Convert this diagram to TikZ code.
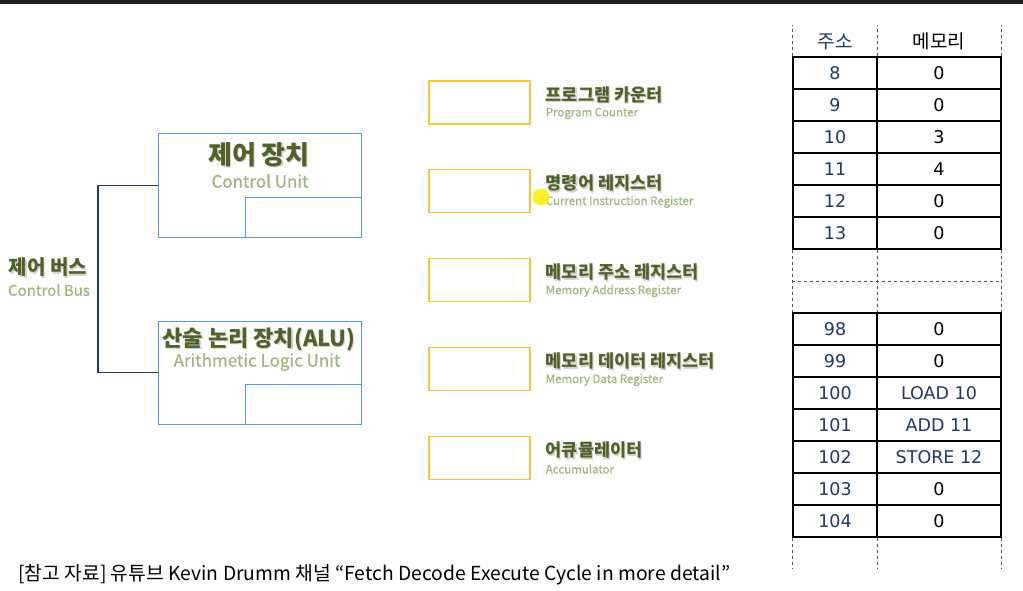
\documentclass[tikz,border=0pt]{standalone}
\usepackage{fontspec}
\setmainfont{Noto Sans CJK KR}
\newfontfamily\semifont{Noto Sans CJK KR}[FakeBold=0.6]
\newfontfamily\cellfont{DejaVu Sans}
\usetikzlibrary{positioning,calc}

\definecolor{cuborder}{HTML}{5B9BD5}
\definecolor{regborder}{HTML}{F8C53A}
\definecolor{darkleaf}{HTML}{4F6228}
\definecolor{paleleaf}{HTML}{9CB87E}
\definecolor{busnavy}{HTML}{1F3864}
\definecolor{tabnavy}{HTML}{203864}
\definecolor{gridgray}{HTML}{44546A}
\definecolor{topbar}{HTML}{1E1E1E}

% label with a soft drop shadow
\newcommand{\shadowed}[1]{\leavevmode\rlap{\kern1.1pt\raisebox{-1.1pt}{\textcolor{black!18}{#1}}}#1}

\begin{document}
\begin{tikzpicture}[x=1pt, y=-1pt,
        unitbox/.style={draw=cuborder, line width=1pt, minimum width=203pt, minimum height=103pt, inner sep=0pt},
        subbox/.style={draw=cuborder, line width=1pt, minimum width=116pt, minimum height=40pt, inner sep=0pt},
        regbox/.style={draw=regborder, line width=1.2pt, minimum width=101pt, minimum height=43pt, inner sep=0pt},
        bigkr/.style={font=\fontsize{26}{28}\selectfont\bfseries, text=darkleaf, inner sep=0pt},
        bigen/.style={font=\fontsize{17}{19}\selectfont\semifont, text=paleleaf, inner sep=0pt},
        regkr/.style={font=\fontsize{17.5}{19}\selectfont\bfseries, text=darkleaf, inner sep=0pt, anchor=west},
        regen/.style={font=\fontsize{11.5}{13}\selectfont\semifont, text=paleleaf, inner sep=0pt, anchor=west},
        bus/.style={draw=busnavy, line width=1.8pt},
        addrcell/.style={draw, line width=1.1pt, minimum width=84pt, minimum height=32pt, inner sep=0pt, text=tabnavy, font=\fontsize{17.5}{19}\cellfont},
        memcell/.style={draw, line width=1.1pt, minimum width=124pt, minimum height=32pt, inner sep=0pt, font=\fontsize{17.5}{19}\cellfont},
        headtxt/.style={font=\fontsize{19}{21}\selectfont, inner sep=0pt},
        grid/.style={draw=gridgray, dashed, line width=0.6pt},
        srcnote/.style={font=\fontsize{19.3}{21}\selectfont, anchor=west, inner sep=0pt}
    ]
    \useasboundingbox (0,0) rectangle (1023,591);
    \fill[topbar] (0,0) rectangle (1023,4);

    % --- CPU units ---
    \node[unitbox] (cu) at (260, 185.5) {};
    \node[subbox, anchor=south east] (cuin) at (cu.south east) {};
    \node[bigkr] (cukr) at (259, 155) {\shadowed{제어 장치}};
    \node[bigen] (cuen) at (260, 181) {Control Unit};

    \node[unitbox] (alu) at (260, 372.5) {};
    \node[subbox, anchor=south east] (aluin) at (alu.south east) {};
    \node[bigkr, font=\fontsize{22}{24}\selectfont\bfseries] (alukr) at (259, 340) {\shadowed{산술 논리 장치(ALU)}};
    \node[bigen] (aluen) at (257, 362) {Arithmetic Logic Unit};

    % --- Control bus ---
    \draw[bus] (cu.west) -- ++(-60,0) |- (alu.west);
    \node[bigkr, font=\fontsize{20}{22}\selectfont\bfseries] (buskr) at (48, 268) {\shadowed{제어 버스}};
    \node[bigen, font=\fontsize{15}{17}\selectfont\semifont] (busen) at (49, 290) {Control Bus};

    % --- Registers ---
    \node[regbox] (pc) at (479.5, 102.5) {};
    \node[regbox] (ir) at (479.5, 191) {};
    \node[regbox] (mar) at (479.5, 280) {};
    \node[regbox] (mdr) at (479.5, 369) {};
    \node[regbox] (acc) at (479.5, 458) {};

    \node[regkr] (pckr) at ([xshift=15pt, yshift=7pt]pc.east) {\shadowed{프로그램 카운터}};
    \node[regen] (pcen) at ([xshift=15pt, yshift=-11pt]pc.east) {Program Counter};
    \node[regkr] (irkr) at ([xshift=15pt, yshift=7pt]ir.east) {\shadowed{명령어 레지스터}};
    \node[regen] (iren) at ([xshift=15pt, yshift=-11pt]ir.east) {Current Instruction Register};
    \node[regkr] (markr) at ([xshift=15pt, yshift=7pt]mar.east) {\shadowed{메모리 주소 레지스터}};
    \node[regen] (maren) at ([xshift=15pt, yshift=-11pt]mar.east) {Memory Address Register};
    \node[regkr] (mdrkr) at ([xshift=15pt, yshift=7pt]mdr.east) {\shadowed{메모리 데이터 레지스터}};
    \node[regen] (mdren) at ([xshift=15pt, yshift=-11pt]mdr.east) {Memory Data Register};
    \node[regkr] (acckr) at ([xshift=15pt, yshift=7pt]acc.east) {\shadowed{어큐뮬레이터}};
    \node[regen] (accen) at ([xshift=15pt, yshift=-11pt]acc.east) {Accumulator};

    % pointer dot
    \fill[yellow!95!orange, opacity=0.85] (541,197) circle (8.5pt);

    % --- Memory table ---
    \foreach \adr/\val/\col/\y [count=\i] in {8/0/black/73, 9/0/black/105, 10/3/black/137, 11/4/black/169, 12/0/black/201, 13/0/black/233} {
        \node[addrcell] (a\i) at (835, \y) {\adr};
        \node[memcell, text=\col] (m\i) at (939, \y) {\val};
    }
    \foreach \adr/\val/\col/\y [count=\i] in {98/0/black/329, 99/0/black/361, 100/LOAD 10/tabnavy/393, 101/ADD 11/tabnavy/425, 102/STORE 12/tabnavy/457, 103/0/black/489, 104/0/black/521} {
        \node[addrcell] (b\i) at (835, \y) {\adr};
        \node[memcell, text=\col] (n\i) at (939, \y) {\val};
    }
    \node[headtxt, text=tabnavy] (hadr) at ($(a1.north)+(0,-15)$) {주소};
    \node[headtxt] (hmem) at ($(m1.north)+(0,-15)$) {메모리};

    % dashed grid
    \draw[grid] (a1.north west) -- ++(0,-31) (a1.north east) -- ++(0,-31) (m1.north east) -- ++(0,-31);
    \draw[grid] (a6.south west) -- (b1.north west) (a6.south east) -- (b1.north east) (m6.south east) -- (n1.north east);
    \draw[grid] ($(a6.south west)!0.5!(b1.north west)$) -- ($(m6.south east)!0.5!(n1.north east)$);
    \draw[grid] (b7.south west) -- ++(0,31) (b7.south east) -- ++(0,31) (n7.south east) -- ++(0,31);

    % --- Source note ---
    \node[srcnote] (src) at (18, 575) {[참고 자료] 유튜브 Kevin Drumm 채널 “Fetch Decode Execute Cycle in more detail”};

    \end{tikzpicture}
\end{document}
